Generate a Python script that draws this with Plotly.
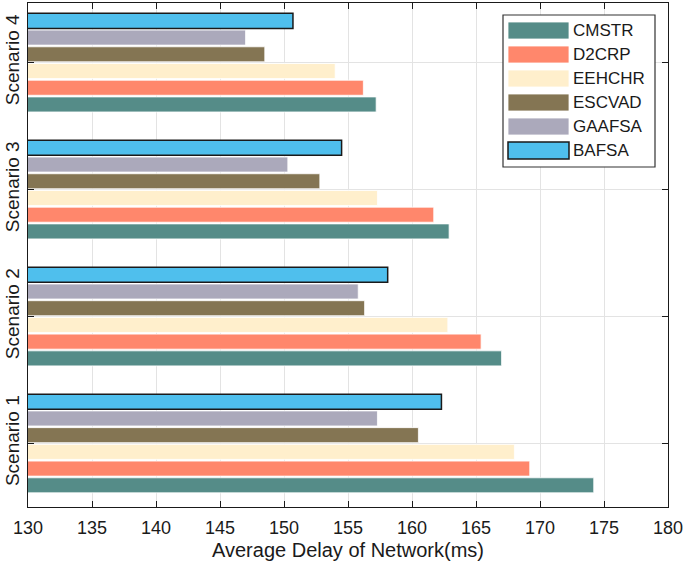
import plotly.graph_objects as go

scenarios = ["Scenario 1", "Scenario 2", "Scenario 3", "Scenario 4"]
series_names = ["CMSTR", "D2CRP", "EEHCHR", "ESCVAD", "GAAFSA", "BAFSA"]
cmstr = [174.2, 167.0, 162.9, 157.2]
d2crp = [169.2, 165.4, 161.7, 156.2]
eehchr = [168.0, 162.8, 157.3, 154.0]
escvad = [160.5, 156.3, 152.8, 148.5]
gaafsa = [157.3, 155.8, 150.3, 147.0]
bafsa = [162.3, 158.1, 154.5, 150.7]
x_ticks = [130, 135, 140, 145, 150, 155, 160, 165, 170, 175, 180]

series_values = [cmstr, d2crp, eehchr, escvad, gaafsa, bafsa]
colors = ["#558c88", "#ff876c", "#ffefcc", "#847553", "#aba9bb", "#4fbfed"]
line_colors = ["#ffffff"] * 5 + ["#1a1a1a"]
line_widths = [0.8] * 5 + [1.5]

W, H = 685, 568
L, R, T, B = 28, 17, 3, 61

fig = go.Figure()
for name, vals, c, lc, lw in zip(series_names, series_values, colors, line_colors, line_widths):
    fig.add_trace(go.Bar(
        y=[1, 2, 3, 4], x=vals, name=name, orientation="h",
        base=0,
        marker=dict(color=c, line=dict(color=lc, width=lw)),
        showlegend=False,
    ))

# custom legend (wide swatches like the original)
pw = W - L - R
ph = H - T - B
def px_x(p):
    return (p - L) / pw
def px_y(p):
    return (H - B - p) / ph

shapes = [dict(type="rect", xref="paper", yref="paper",
               x0=px_x(503), x1=px_x(655), y0=px_y(167), y1=px_y(15),
               line=dict(color="#333333", width=1.2), fillcolor="white", layer="above")]
annotations = []
for i, (name, c, lc, lw) in enumerate(zip(series_names, colors, line_colors, line_widths)):
    top = 22 + 24 * i
    shapes.append(dict(type="rect", xref="paper", yref="paper",
                       x0=px_x(508), x1=px_x(569), y0=px_y(top + 17), y1=px_y(top),
                       line=dict(color=lc, width=lw), fillcolor=c, layer="above"))
    annotations.append(dict(xref="paper", yref="paper", x=px_x(571), y=px_y(top + 8.5),
                            text=name, showarrow=False, xanchor="left", yanchor="middle",
                            font=dict(size=17, color="#1a1a1a")))

fig.update_layout(
    width=W, height=H,
    margin=dict(l=L, r=R, t=T, b=B, autoexpand=False),
    plot_bgcolor="white", paper_bgcolor="white",
    barmode="group", bargap=0.21, bargroupgap=0.1,
    font=dict(family="Liberation Sans, Arial, sans-serif", color="#1a1a1a"),
    shapes=shapes, annotations=annotations,
    showlegend=False,
)
fig.update_xaxes(
    range=[130, 180], tickvals=x_ticks, ticktext=[str(t) for t in x_ticks],
    showgrid=True, gridcolor="#e3e3e3", gridwidth=1,
    showline=True, linecolor="#1a1a1a", linewidth=1.2, mirror="ticks",
    ticks="inside", ticklen=6, tickcolor="#1a1a1a",
    tickfont=dict(size=18), ticklabelstandoff=4,
    title=dict(text="Average Delay of Network(ms)", font=dict(size=20), standoff=6),
    zeroline=False, automargin=False,
)
fig.update_yaxes(
    range=[0.5, 4.47], tickvals=[1, 2, 3, 4], ticktext=scenarios,
    tickangle=-90,
    showgrid=True, gridcolor="#e3e3e3", gridwidth=1,
    showline=True, linecolor="#1a1a1a", linewidth=1.2, mirror="ticks",
    ticks="inside", ticklen=6, tickcolor="#1a1a1a",
    tickfont=dict(size=19),
    zeroline=False, automargin=False,
)

fig.write_html("out.html", config={"displayModeBar": False},
               post_script="document.body.style.margin='0';document.body.style.overflow='hidden';")
